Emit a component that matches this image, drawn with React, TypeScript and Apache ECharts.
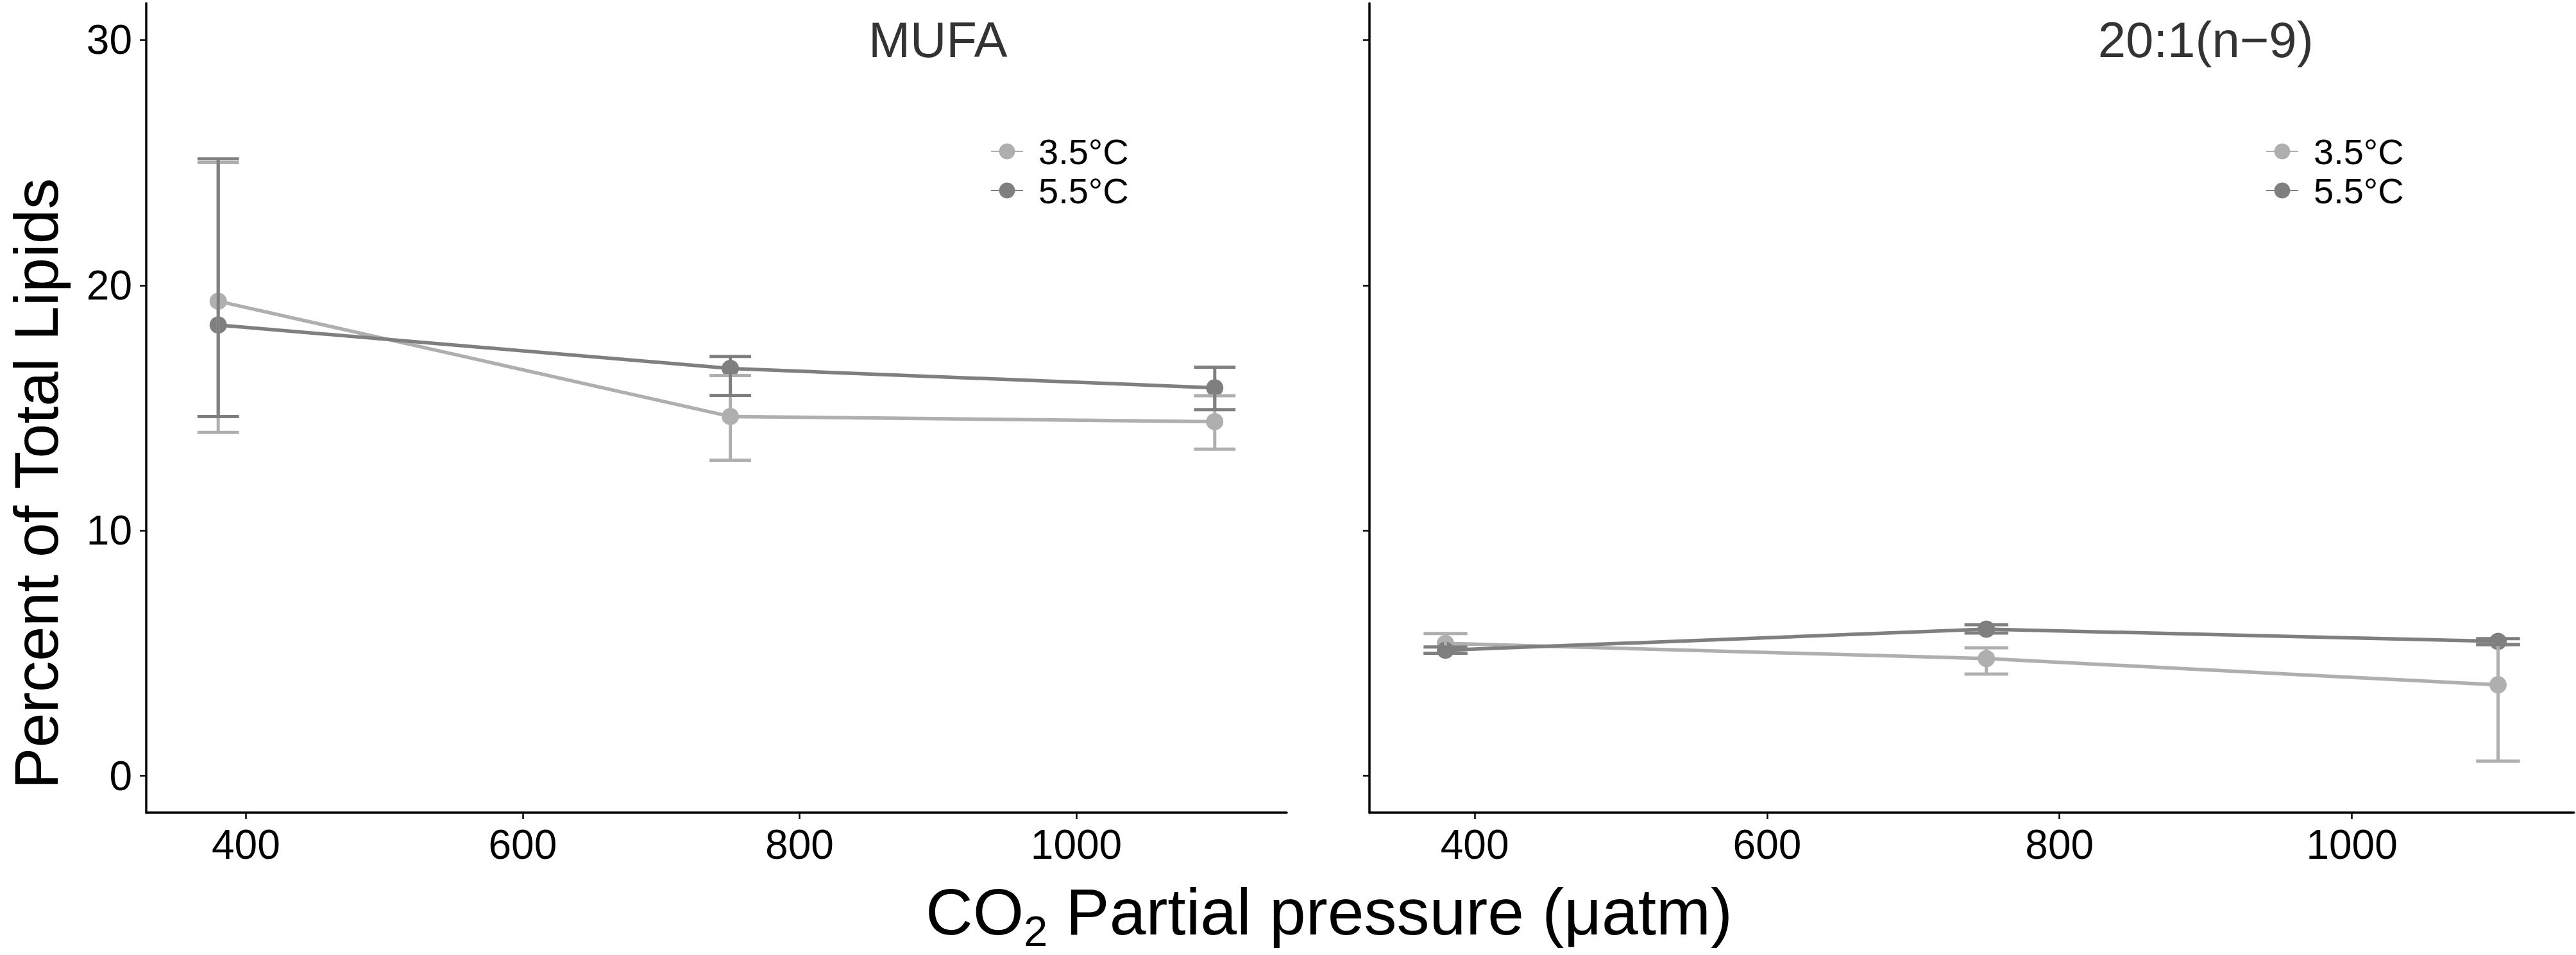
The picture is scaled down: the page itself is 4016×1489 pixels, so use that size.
import React, { useEffect, useRef } from 'react';
import * as echarts from 'echarts';

// ---------- data ----------
const co2 = [380, 750, 1100];
const xTicks = [400, 600, 800, 1000];
const yTicks = [0, 10, 20, 30];
const seriesNames = ['3.5°C', '5.5°C'];
const panelTitles = ['MUFA', '20:1(n−9)'];
const titleAnchor = [900, 30];

// MUFA
const mufa35Mean = [19.35, 14.65, 14.44];
const mufa35Low = [14.0, 12.87, 13.32];
const mufa35High = [25.0, 16.32, 15.5];
const mufa55Mean = [18.38, 16.61, 15.82];
const mufa55Low = [14.65, 15.51, 14.93];
const mufa55High = [25.15, 17.1, 16.66];

// 20:1(n-9)
const n9_35Mean = [5.4, 4.78, 3.71];
const n9_35Low = [5.0, 4.15, 0.6];
const n9_35High = [5.8, 5.22, 5.35];
const n9_55Mean = [5.12, 5.98, 5.48];
const n9_55Low = [5.0, 5.82, 5.35];
const n9_55High = [5.25, 6.16, 5.59];

const ERR_HALF_WIDTH = 15; // error-bar cap half width, in x data units

const FONT = 'Liberation Sans, Arial, Helvetica, sans-serif';
const LIGHT = '#afafaf';
const DARK = '#7f7f7f';

const panels = [
  { title: panelTitles[0], light: [mufa35Mean, mufa35Low, mufa35High], dark: [mufa55Mean, mufa55Low, mufa55High] },
  { title: panelTitles[1], light: [n9_35Mean, n9_35Low, n9_35High], dark: [n9_55Mean, n9_55Low, n9_55High] },
];

function errRender(color: string) {
  return (params: any, api: any) => {
    const x = api.value(0);
    const lo = api.value(1);
    const hi = api.value(2);
    const pLo = api.coord([x, lo]);
    const pHi = api.coord([x, hi]);
    const a = api.coord([x - ERR_HALF_WIDTH, lo]);
    const b = api.coord([x + ERR_HALF_WIDTH, lo]);
    const c = api.coord([x - ERR_HALF_WIDTH, hi]);
    const d = api.coord([x + ERR_HALF_WIDTH, hi]);
    const style = { stroke: color, lineWidth: 5 };
    return {
      type: 'group',
      children: [
        { type: 'line', shape: { x1: pLo[0], y1: pLo[1], x2: pHi[0], y2: pHi[1] }, style },
        { type: 'line', shape: { x1: a[0], y1: a[1], x2: b[0], y2: b[1] }, style },
        { type: 'line', shape: { x1: c[0], y1: c[1], x2: d[0], y2: d[1] }, style },
      ],
    };
  };
}

export default function App() {
  const ref = useRef<HTMLDivElement>(null);
  useEffect(() => {
    document.body.style.margin = '0';
    const chart = echarts.init(ref.current!, null, { renderer: 'svg' });

    const grids = [
      { left: 228, top: 5, width: 1778, height: 1262 },
      { left: 2135, top: 5, width: 1878, height: 1262 },
    ];

    const xAxes = grids.map((_, i) => ({
      type: 'value',
      gridIndex: i,
      min: 328,
      max: 1152,
      axisLine: { show: true, onZero: false, lineStyle: { color: '#000', width: 3.5 } },
      axisTick: { show: true, length: 10, customValues: xTicks, lineStyle: { color: '#000', width: 2.5 } },
      axisLabel: {
        show: true,
        customValues: xTicks,
        formatter: (v: number) => String(v),
        fontSize: 64,
        color: '#000',
        margin: 18,
        fontFamily: FONT,
      },
      splitLine: { show: false },
    }));

    const yAxes = grids.map((_, i) => ({
      type: 'value',
      gridIndex: i,
      min: -1.5,
      max: 31.5,
      axisLine: { show: true, onZero: false, lineStyle: { color: '#000', width: 3.5 } },
      axisTick: { show: true, length: 10, customValues: yTicks, lineStyle: { color: '#000', width: 2.5 } },
      axisLabel: {
        show: i === 0,
        customValues: yTicks,
        formatter: (v: number) => String(v),
        fontSize: 64,
        color: '#000',
        margin: 22,
        fontFamily: FONT,
      },
      splitLine: { show: false },
    }));

    const series: any[] = [];
    panels.forEach((p, i) => {
      const groups = [
        { name: seriesNames[0], color: LIGHT, d: p.light },
        { name: seriesNames[1], color: DARK, d: p.dark },
      ];
      groups.forEach((g, k) => {
        series.push({
          type: 'line',
          name: g.name,
          xAxisIndex: i,
          yAxisIndex: i,
          data: co2.map((x, j) => [x, g.d[0][j]]),
          symbol: 'circle',
          symbolSize: 27,
          lineStyle: { color: g.color, width: 5.5 },
          itemStyle: { color: g.color },
          z: 2 + k,
          silent: true,
        });
      });
      groups.forEach((g, k) => {
        series.push({
          type: 'custom',
          name: g.name,
          xAxisIndex: i,
          yAxisIndex: i,
          data: co2.map((x, j) => [x, g.d[1][j], g.d[2][j]]),
          encode: { x: 0, y: [1, 2] },
          renderItem: errRender(g.color),
          z: 4 + k,
          silent: true,
        });
      });
      series.push({
        type: 'scatter',
        name: 'title' + i,
        xAxisIndex: i,
        yAxisIndex: i,
        data: [titleAnchor],
        symbol: 'circle',
        symbolSize: 1,
        itemStyle: { color: 'rgba(0,0,0,0)' },
        label: {
          show: true,
          position: 'inside',
          formatter: p.title,
          fontSize: 78,
          color: '#000',
          textBorderWidth: 0,
          fontFamily: FONT,
        },
        silent: true,
        z: 6,
      });
    });

    const legendBase = {
      data: seriesNames,
      orient: 'vertical',
      top: 208,
      padding: 0,
      itemWidth: 50,
      itemHeight: 31,
      itemGap: 5,
      selectedMode: false,
      textStyle: { fontSize: 56, color: '#000', fontFamily: FONT, padding: [0, 0, 0, 19] },
    };

    chart.setOption({
      animation: false,
      backgroundColor: '#fff',
      grid: grids,
      xAxis: xAxes,
      yAxis: yAxes,
      legend: [
        { ...legendBase, left: 1544 },
        { ...legendBase, left: 3532 },
      ],
      series,
      graphic: [
        {
          type: 'text',
          x: 56,
          y: 754,
          rotation: Math.PI / 2,
          style: {
            text: 'Percent of Total Lipids',
            fontSize: 97,
            fontFamily: FONT,
            fill: '#000',
            textAlign: 'center',
            textVerticalAlign: 'middle',
          },
        },
        {
          type: 'text',
          x: 2072,
          y: 1371,
          style: {
            text: '{a|CO}{s|2}{a| Partial pressure (μatm)}',
            textAlign: 'center',
            textVerticalAlign: 'top',
            fill: '#000',
            rich: {
              a: { fontSize: 102, lineHeight: 102, verticalAlign: 'top', fontFamily: FONT, fill: '#000' },
              s: { fontSize: 67, lineHeight: 67, verticalAlign: 'top', padding: [47, 0, 0, 0], fontFamily: FONT, fill: '#000' },
            },
          },
        },
      ],
    });
    return () => chart.dispose();
  }, []);
  return <div ref={ref} style={{ width: 4016, height: 1489, overflow: 'hidden' }} />;
}
